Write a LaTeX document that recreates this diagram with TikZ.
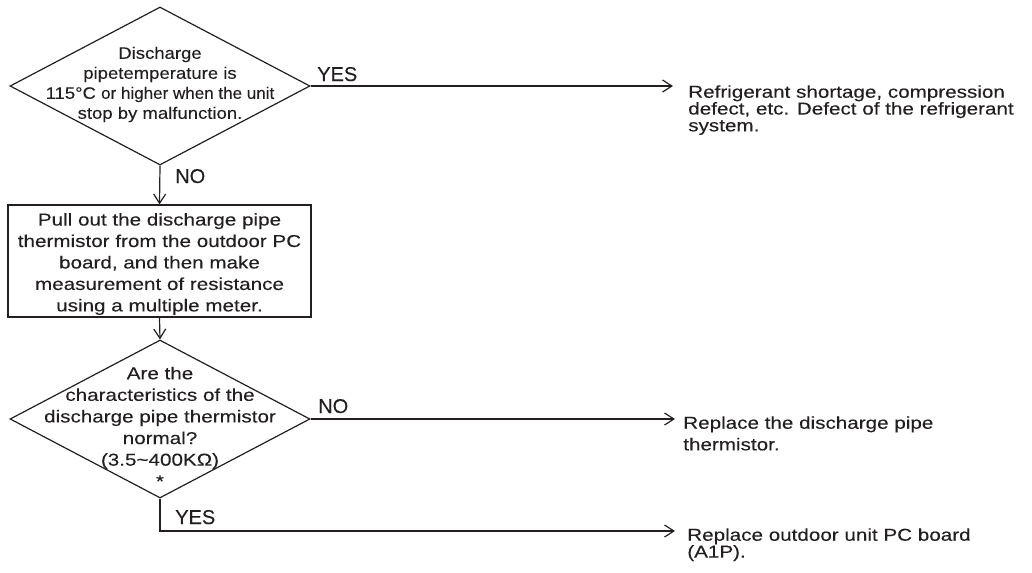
\documentclass[tikz,border=0pt]{standalone}
\usepackage{fontspec}
\setmainfont{Liberation Sans}[FakeStretch=1.2,FakeBold=0.15]
\newfontfamily\qfont{Liberation Sans}[FakeStretch=1.12,FakeBold=0.15]
\newfontfamily\qnarrow{Liberation Sans}[FakeStretch=1.03,FakeBold=0.15]
\newfontfamily\lblfont{Liberation Sans}[FakeBold=0.15]
\usetikzlibrary{arrows.meta,positioning,shapes.geometric}
\definecolor{linec}{HTML}{231F20}
\tikzset{
  ar/.style={-{Straight Barb[length=7pt,width=9pt]},line width=0.9pt,linec},
  dia/.style={draw=linec,line width=0.9pt,diamond,minimum width=225pt,minimum height=118.5pt,inner sep=0pt},
  stepbox/.style={draw=linec,line width=0.9pt,minimum width=227.25pt,minimum height=84pt,inner sep=0pt},
  qtext/.style={align=center,inner sep=0pt,text=linec},
  res/.style={align=left,inner sep=0pt,anchor=north west,text=linec,font=\fontsize{12.9}{12.6}\selectfont},
  lbl/.style={inner sep=0pt,anchor=base west,text=linec,font=\lblfont\fontsize{15}{18}\selectfont}
}
\begin{document}
\begin{tikzpicture}[x=0.75pt,y=-0.75pt]
\useasboundingbox (0,0) rectangle (1032,572);
% decisions and check step
\node[dia] (dq1) at (160,86) {};
\node[qtext,font=\qfont\fontsize{12.4}{15}\selectfont] (dq1t) at (160,84.5)
  {Discharge\\pipetemperature is\\115°C {\qnarrow or higher when the unit}\\stop by malfunction.};
\node[stepbox] (meas) at (159.5,261) {};
\node[qtext,font=\fontsize{12.9}{16.1}\selectfont] (meast) at (159.5,264)
  {Pull out the discharge pipe\\thermistor from the outdoor PC\\board, and then make\\measurement of resistance\\using a multiple meter.};
\node[dia] (dq2) at (160,419) {};
\node[qtext,font=\fontsize{12.9}{16.2}\selectfont] (dq2t) at (160,427)
  {Are the\\characteristics of the\\discharge pipe thermistor\\normal?\\(3.5\textasciitilde400KΩ)\\*};
% results
\node[res] (r1) at (688,85) {Refrigerant shortage, compression\\defect, etc. Defect of the refrigerant\\system.};
\node[res,font=\fontsize{12.9}{16.2}\selectfont] (r2) at (683,416) {Replace the discharge pipe\\thermistor.};
\node[res] (r3) at (687,528) {Replace outdoor unit PC board\\(A1P).};
\coordinate (e1) at (673,86);
\coordinate (e2) at (675,419);
\coordinate (e3) at (675,531);
% connectors
\draw[ar] (dq1.east) -- (e1);
\draw[ar] (dq1.south) -- (meas.north);
\draw[ar] (meas.south) -- (dq2.north);
\draw[ar] (dq2.east) -- (e2);
\draw[ar] (dq2.south) |- (e3);
\node[lbl] (yes1) at (317,81) {YES};
\node[lbl] (no1) at (175,183) {NO};
\node[lbl] (no2) at (318,413) {NO};
\node[lbl] (yes2) at (175,524) {YES};
\end{tikzpicture}
\end{document}
